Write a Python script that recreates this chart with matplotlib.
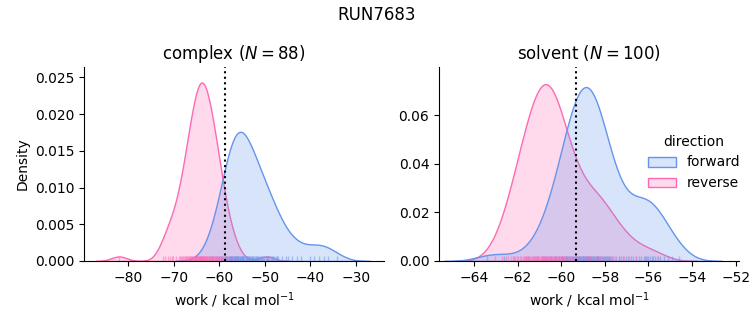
import pandas as pd
import matplotlib
matplotlib.use("Agg")
import matplotlib.pyplot as plt
import seaborn as sns

RUN_NAME = "RUN7683"
PHASES = ["complex", "solvent"]
DIRECTIONS = ["forward", "reverse"]
COLORS = {"forward": "cornflowerblue", "reverse": "hotpink"}

# work values (kcal/mol), one list per phase/direction
complex_forward = [
    -62.3, -61.4, -60.8, -60.3, -60.0, -59.6, -59.3, -59.1, -58.8, -58.6,
    -58.4, -58.2, -58.0, -57.8, -57.7, -57.6, -57.5, -57.4, -57.2, -57.1,
    -56.9, -56.8, -56.7, -56.6, -56.5, -56.4, -56.3, -56.2, -56.0, -55.9,
    -55.8, -55.6, -55.5, -55.4, -55.3, -55.1, -55.0, -54.9, -54.8, -54.7,
    -54.5, -54.4, -54.2, -54.0, -53.8, -53.7, -53.5, -53.4, -53.2, -53.0,
    -52.9, -52.7, -52.6, -52.4, -52.2, -52.0, -51.8, -51.6, -51.5, -51.3,
    -51.0, -50.8, -50.6, -50.4, -50.1, -49.8, -49.6, -49.3, -49.0, -48.7,
    -48.5, -48.2, -47.9, -47.6, -47.3, -47.0, -46.2, -45.3, -44.8, -44.1,
    -42.9, -42.1, -40.0, -39.1, -38.0, -37.0, -36.2, -34.2,
]
complex_reverse = [
    -82.0, -72.3, -71.8, -71.2, -70.7, -70.4, -70.1, -69.6, -64.25, -68.9,
    -68.6, -68.4, -68.1, -67.9, -67.7, -67.6, -67.4, -67.2, -67.0, -66.8,
    -66.7, -66.6, -66.4, -66.3, -66.1, -66.0, -65.9, -65.8, -65.6, -65.5,
    -65.4, -65.3, -65.2, -65.0, -64.9, -64.8, -64.7, -64.6, -64.5, -64.4,
    -64.3, -64.2, -64.1, -64.0, -63.9, -63.8, -63.7, -63.6, -63.5, -63.4,
    -63.3, -63.2, -63.1, -63.0, -62.9, -62.8, -62.7, -62.6, -62.4, -62.3,
    -62.2, -62.0, -61.9, -61.8, -61.7, -61.6, -61.5, -61.4, -61.2, -61.0,
    -60.9, -60.7, -60.6, -60.5, -60.3, -60.1, -59.9, -59.7, -59.5, -59.3,
    -59.0, -58.8, -63.65, -58.2, -57.8, -57.1, -56.2, -49.6,
]
solvent_forward = [
    -63.40, -62.60, -61.50, -61.10, -60.85, -60.70, -60.55, -60.45, -60.30, -60.22,
    -60.15, -60.10, -60.02, -59.96, -59.90, -59.85, -59.80, -59.76, -59.72, -59.68,
    -59.62, -59.58, -59.55, -59.50, -59.45, -59.41, -59.38, -59.33, -59.30, -59.27,
    -59.25, -59.22, -59.19, -59.15, -59.12, -59.10, -59.06, -59.02, -58.99, -58.95,
    -58.92, -58.90, -58.86, -58.83, -58.80, -58.78, -58.76, -58.73, -58.70, -58.66,
    -58.63, -58.60, -58.56, -58.53, -58.50, -58.46, -58.42, -58.38, -58.35, -58.32,
    -58.29, -58.26, -58.22, -58.18, -58.13, -58.08, -58.04, -57.98, -57.93, -57.88,
    -57.84, -57.80, -57.76, -57.70, -57.63, -56.15, -57.48, -55.85, -57.33, -57.27,
    -57.15, -57.05, -56.92, -56.80, -56.70, -56.58, -56.45, -56.32, -56.22, -56.12,
    -56.02, -55.92, -55.80, -55.70, -55.58, -55.45, -55.30, -55.10, -54.90, -54.60,
]
solvent_reverse = [
    -63.05, -62.70, -62.55, -62.42, -62.30, -62.22, -62.16, -62.10, -62.03, -61.97,
    -61.90, -61.83, -61.77, -61.72, -61.68, -61.63, -61.59, -61.55, -61.50, -61.46,
    -61.42, -61.38, -61.33, -61.29, -61.26, -61.23, -61.20, -61.16, -61.13, -61.09,
    -61.05, -61.01, -60.98, -60.94, -60.90, -60.87, -60.84, -60.81, -60.78, -60.76,
    -60.73, -60.70, -60.67, -60.64, -60.61, -60.58, -60.55, -60.52, -60.48, -60.45,
    -60.42, -60.39, -60.36, -60.33, -60.30, -60.27, -60.23, -60.19, -60.14, -60.10,
    -60.06, -60.02, -59.98, -59.94, -59.90, -59.86, -59.82, -59.77, -59.72, -59.65,
    -59.58, -59.51, -59.45, -59.38, -59.32, -59.26, -59.18, -59.08, -58.98, -58.88,
    -58.79, -58.70, -58.62, -58.54, -58.46, -58.38, -58.30, -58.20, -58.10, -58.00,
    -57.90, -57.80, -57.68, -57.52, -57.35, -57.12, -56.88, -56.55, -56.05, -55.60,
]

# free energy estimate per phase (dotted line)
dg_estimate = {"complex": -58.8, "solvent": -59.3}
xlims = {"complex": (-89.7, -23.8), "solvent": (-65.6, -51.85)}
ylims = {"complex": (0, 0.0264), "solvent": (0, 0.0798)}

rows = []
for phase, direction, values in [
    ("complex", "forward", complex_forward),
    ("complex", "reverse", complex_reverse),
    ("solvent", "forward", solvent_forward),
    ("solvent", "reverse", solvent_reverse),
]:
    for v in values:
        rows.append({"phase": phase, "direction": direction, "work": v})
df = pd.DataFrame(rows)

g = sns.displot(
    data=df, x="work", hue="direction", col="phase",
    kind="kde", fill=True, rug=True, rug_kws=dict(alpha=0.5),
    col_order=PHASES, hue_order=DIRECTIONS, palette=COLORS,
    facet_kws=dict(sharex=False, sharey=False),
)
fig = g.figure
fig.set_size_inches(7.53, 3.25)

W, H = 753, 325
positions = {"complex": [84 / W, 64 / H, 300 / W, 194 / H],
             "solvent": [439 / W, 64 / H, 300 / W, 194 / H]}
n_samples = {"complex": len(complex_forward), "solvent": len(solvent_forward)}

for ax, phase in zip(g.axes.flat, PHASES):
    ax.set_position(positions[phase])
    ax.axvline(dg_estimate[phase], color="k", ls=":")
    ax.set_xlim(*xlims[phase])
    ax.set_ylim(*ylims[phase])
    ax.set_title(f"{phase} ($N={n_samples[phase]}$)")
    ax.set_xlabel("work / kcal mol$^{-1}$")
    ax.set_ylabel("Density" if phase == "complex" else "")
    ax.tick_params(labelleft=True)

sns.move_legend(g, "center right", bbox_to_anchor=(1, 0.5), frameon=False)
fig.suptitle(RUN_NAME)

fig.savefig("out.png", dpi=100)
plt.close(fig)
